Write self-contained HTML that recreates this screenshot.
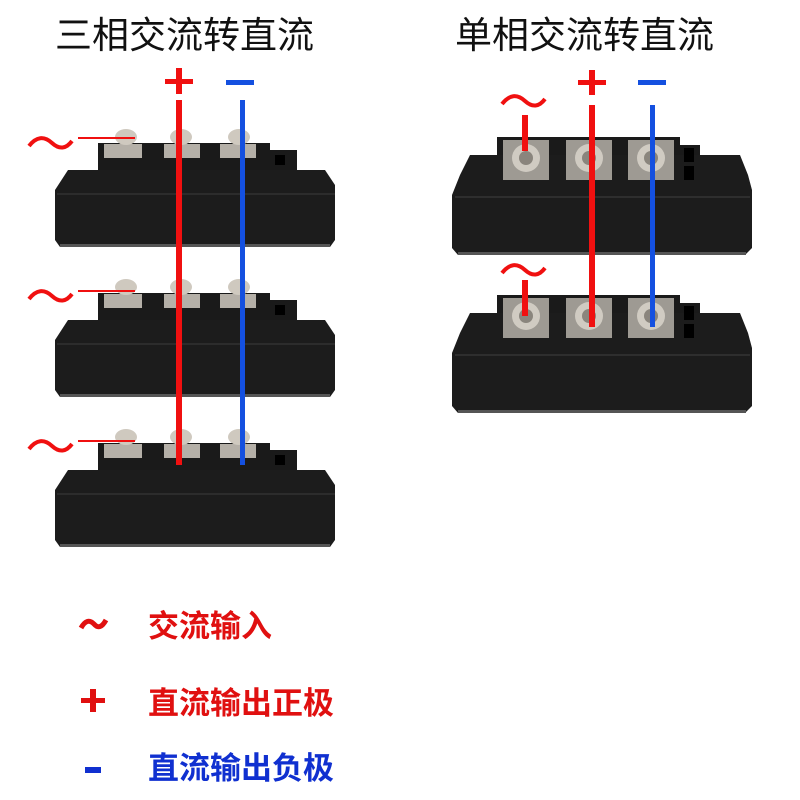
<!DOCTYPE html>
<html><head><meta charset="utf-8"><style>
html,body{margin:0;padding:0;background:#fff;width:800px;height:800px;overflow:hidden}
svg text{font-family:"Liberation Sans","Noto Sans CJK SC",sans-serif}
</style></head><body>
<svg width="800" height="800" viewBox="0 0 800 800" xmlns="http://www.w3.org/2000/svg">
<defs>
<g id="lmod">
  <path d="M98 143 L270 143 L270 150 L297 150 L297 170 L98 170 Z" fill="#1a1a1a"/>
  <path d="M68 170 L325 170 L335 185 L335 240 L330 247 L60 247 L55 240 L55 190 Z" fill="#1c1c1c"/>
  <rect x="57" y="193" width="278" height="2" fill="#2c2c2c"/>
  <rect x="60" y="244" width="270" height="3" fill="#555"/>
  <rect x="104" y="144" width="38" height="14" fill="#b5b0a8"/>
  <ellipse cx="126" cy="137" rx="11" ry="8" fill="#cfc9bf"/>
  <rect x="164" y="144" width="36" height="14" fill="#b5b0a8"/>
  <ellipse cx="181" cy="137" rx="11" ry="8" fill="#cfc9bf"/>
  <rect x="220" y="144" width="36" height="14" fill="#b5b0a8"/>
  <ellipse cx="239" cy="137" rx="11" ry="8" fill="#cfc9bf"/>
  <rect x="275" y="155" width="10" height="10" fill="#000"/>
</g>
<g id="rmod">
  <path d="M497 137 L680 137 L680 145 L700 145 L700 190 L497 190 Z" fill="#1a1a1a"/>
  <path d="M470 155 L740 155 L748 175 L752 190 L752 248 L745 255 L458 255 L452 248 L452 195 L460 175 Z" fill="#1c1c1c"/>
  <rect x="455" y="196" width="295" height="2" fill="#2e2e2e"/>
  <rect x="458" y="252" width="288" height="3" fill="#555"/>
  <rect x="503" y="140" width="46" height="40" fill="#9e9a93"/>
  <circle cx="526" cy="158" r="14" fill="#d0cbc2"/>
  <circle cx="526" cy="158" r="7" fill="#8a857d"/>
  <rect x="566" y="140" width="46" height="40" fill="#9e9a93"/>
  <circle cx="589" cy="158" r="14" fill="#d0cbc2"/>
  <circle cx="589" cy="158" r="7" fill="#8a857d"/>
  <rect x="628" y="140" width="46" height="40" fill="#9e9a93"/>
  <circle cx="651" cy="158" r="14" fill="#d0cbc2"/>
  <circle cx="651" cy="158" r="7" fill="#8a857d"/>
  <rect x="684" y="148" width="10" height="14" fill="#000"/>
  <rect x="684" y="166" width="10" height="14" fill="#000"/>
</g>
</defs>
<text x="55" y="48" font-size="37" fill="#111">三相交流转直流</text>
<text x="455" y="48" font-size="37" fill="#111">单相交流转直流</text>

<use href="#lmod"/>
<use href="#lmod" transform="translate(0,150)"/>
<use href="#lmod" transform="translate(0,300)"/>
<use href="#rmod"/>
<use href="#rmod" transform="translate(0,158)"/>

<rect x="176" y="100" width="6" height="365" fill="#f01010"/>
<rect x="240" y="100" width="5" height="365" fill="#1450e0"/>
<rect x="165" y="79" width="28" height="5" fill="#f01010"/>
<rect x="176" y="68" width="6" height="26" fill="#f01010"/>
<rect x="226" y="80" width="28" height="5" fill="#1450e0"/>
<g fill="none" stroke="#f01010" stroke-width="4">
<path d="M29 146 Q40 132 52 143 Q63 153 72 141"/>
<path d="M29 299 Q40 285 52 296 Q63 306 72 294"/>
<path d="M29 449 Q40 435 52 446 Q63 456 72 444"/>
</g>
<g fill="#f01010">
<rect x="78" y="137" width="57" height="2"/>
<rect x="78" y="290" width="57" height="2"/>
<rect x="78" y="440" width="57" height="2"/>
</g>

<rect x="589" y="105" width="6" height="222" fill="#f01010"/>
<rect x="650" y="105" width="5" height="222" fill="#1450e0"/>
<rect x="578" y="80" width="28" height="5" fill="#f01010"/>
<rect x="589" y="70" width="6" height="25" fill="#f01010"/>
<rect x="638" y="80" width="28" height="5" fill="#1450e0"/>
<g fill="none" stroke="#f01010" stroke-width="4">
<path d="M502 104 Q513 90 525 101 Q536 111 545 99"/>
<path d="M502 273 Q513 259 525 270 Q536 280 545 268"/>
</g>
<rect x="522" y="115" width="6" height="36" fill="#f01010"/>
<rect x="522" y="280" width="6" height="36" fill="#f01010"/>

<path d="M81 628 Q87 617 94 624 Q100 631 106 620" fill="none" stroke="#e01010" stroke-width="5"/>
<text x="148" y="637" font-size="31" font-weight="bold" fill="#e01010">交流输入</text>
<rect x="81" y="698" width="24" height="5" fill="#e01010"/>
<rect x="90" y="689" width="6" height="23" fill="#e01010"/>
<text x="148" y="714" font-size="31" font-weight="bold" fill="#e01010">直流输出正极</text>
<rect x="85" y="767" width="16" height="6" fill="#1030d0"/>
<text x="148" y="779" font-size="31" font-weight="bold" fill="#1030d0">直流输出负极</text>
</svg>
</body></html>
